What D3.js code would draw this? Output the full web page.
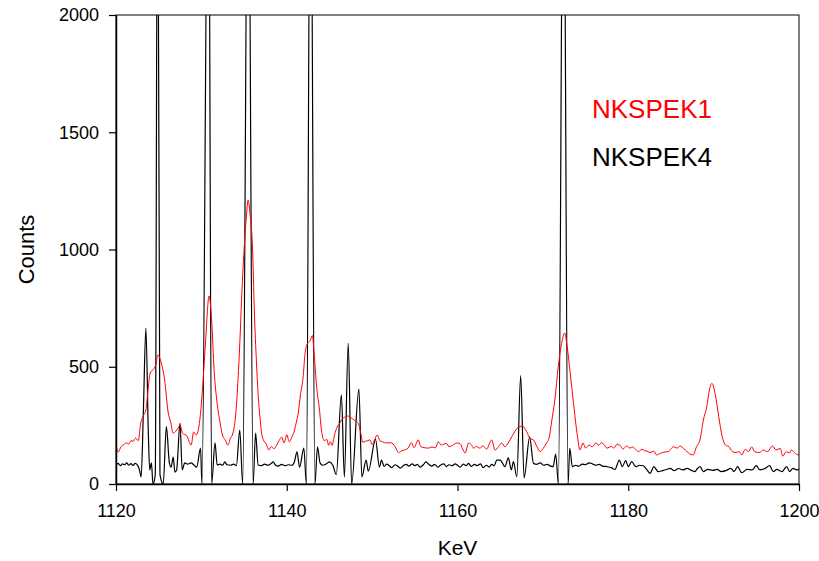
<!DOCTYPE html>
<html>
<head>
<meta charset="utf-8">
<script src="https://cdn.jsdelivr.net/npm/d3@7"></script>
<style>
  body { margin: 0; background: #fff; }
  svg text { font-family: "Liberation Sans", Arial, sans-serif; }
</style>
</head>
<body>
<svg id="chart" width="819" height="561"></svg>
<script>
// tick values
var xTicks = [1120, 1140, 1160, 1180, 1200];
var yTicks = [0, 500, 1000, 1500, 2000];

// series names
var seriesNames = ["NKSPEK1", "NKSPEK4"];

// NKSPEK1 (red) [keV, counts]
var nkspek1 = [
  [1120.0,166],[1120.25,136],[1120.6,160],[1120.9,168],[1121.2,175],[1121.5,170],[1121.75,185],
  [1122.0,182],[1122.3,196],[1122.6,185],[1122.9,260],[1123.2,290],[1123.5,315],[1123.75,400],
  [1124.0,473],[1124.3,486],[1124.65,507],[1124.9,550],[1125.3,516],[1125.7,443],[1126.1,307],
  [1126.4,264],[1126.7,217],[1127.0,225],[1127.3,239],[1127.5,252],[1127.8,217],[1128.3,205],
  [1128.8,166],[1129.1,222],[1129.4,209],[1129.7,243],[1129.95,320],[1130.2,443],[1130.5,614],
  [1130.9,802],[1131.2,700],[1131.5,480],[1131.8,358],[1132.2,260],[1132.5,205],[1132.8,188],
  [1133.1,166],[1133.4,195],[1133.7,217],[1134.05,308],[1134.3,450],[1134.5,600],[1134.7,780],
  [1135.0,998],[1135.25,1130],[1135.48,1211],[1135.7,1150],[1136.0,998],[1136.2,742],
  [1136.45,520],[1136.67,370],[1136.85,290],[1137.05,217],[1137.25,190],[1137.6,170],
  [1137.9,145],[1138.2,160],[1138.5,150],[1138.8,165],[1139.1,185],[1139.4,200],[1139.7,175],
  [1140.0,210],[1140.3,180],[1140.6,200],[1140.85,222],[1141.1,260],[1141.35,303],[1141.6,380],
  [1141.9,450],[1142.15,558],[1142.45,601],[1142.75,612],[1143.0,633],[1143.2,560],[1143.5,415],
  [1143.8,328],[1144.1,220],[1144.4,185],[1144.7,190],[1144.9,165],[1145.1,180],[1145.3,165],
  [1145.6,210],[1145.9,243],[1146.2,258],[1146.5,278],[1146.8,285],[1147.1,290],[1147.4,286],
  [1147.8,275],[1148.1,268],[1148.4,258],[1148.65,220],[1148.9,178],[1149.2,182],[1149.5,185],
  [1149.75,188],[1150.0,168],[1150.3,190],[1150.6,209],[1150.9,185],[1151.2,180],[1151.7,175],
  [1152.2,176],[1152.7,159],[1153.1,134],[1153.5,142],[1153.8,145],[1154.2,153],[1154.6,176],
  [1154.9,155],[1155.4,188],[1155.7,159],[1156.1,155],[1156.6,153],[1157.0,158],[1157.4,154],
  [1157.75,180],[1158.1,166],[1158.4,170],[1158.7,173],[1159.0,159],[1159.4,165],[1159.9,175],
  [1160.3,172],[1160.6,150],[1160.9,132],[1161.3,175],[1161.6,168],[1161.9,153],[1162.2,160],
  [1162.6,153],[1163.0,162],[1163.4,149],[1164.0,188],[1164.4,145],[1164.8,159],[1165.15,175],
  [1165.55,159],[1165.85,170],[1166.15,188],[1166.7,223],[1167.0,238],[1167.3,245],[1167.6,247],
  [1168.1,223],[1168.5,194],[1168.9,188],[1169.3,159],[1169.7,138],[1170.0,150],[1170.4,173],
  [1170.75,200],[1171.0,260],[1171.4,358],[1171.8,500],[1172.2,600],[1172.55,644],[1172.85,585],
  [1173.2,473],[1173.55,358],[1174.0,217],[1174.35,145],[1174.7,175],[1175.0,153],[1175.4,166],
  [1175.8,159],[1176.2,175],[1176.5,166],[1176.9,176],[1177.2,166],[1177.5,153],[1178.0,160],
  [1178.3,153],[1178.7,170],[1179.0,166],[1179.4,149],[1179.8,162],[1180.2,153],[1180.5,158],
  [1180.8,150],[1181.2,138],[1181.6,148],[1181.9,142],[1182.2,140],[1182.55,134],[1183.0,140],
  [1183.3,124],[1183.8,131],[1184.2,136],[1184.7,138],[1185.0,150],[1185.3,159],[1185.7,153],
  [1186.1,162],[1186.5,150],[1186.7,145],[1187.2,128],[1187.6,124],[1188.0,159],[1188.4,188],
  [1188.8,273],[1189.2,330],[1189.5,401],[1189.8,429],[1190.2,380],[1190.6,287],[1191.0,202],
  [1191.4,166],[1191.8,159],[1192.2,138],[1192.6,134],[1193.0,138],[1193.3,124],[1193.7,148],
  [1194.1,138],[1194.45,159],[1194.8,138],[1195.4,134],[1195.8,145],[1196.3,138],[1196.9,162],
  [1197.3,145],[1197.8,152],[1198.1,119],[1198.5,138],[1198.9,132],[1199.1,145],[1199.5,132],
  [1199.9,124],[1200.0,130]
];

// NKSPEK4 (black) [keV, counts]; the big lines run off the top of the plot
var nkspek4 = [
  [1120.0,80],[1120.25,88],[1120.5,78],[1120.75,86],[1121.0,82],[1121.25,90],[1121.5,80],
  [1121.75,87],[1122.0,79],[1122.25,88],[1122.5,82],[1122.75,60],[1122.95,30],[1123.2,300],
  [1123.5,665],[1123.8,200],[1123.95,60],[1124.15,90],[1124.33,0],[1124.6,40],[1124.88,3000],
  [1125.15,40],[1125.53,0],[1125.9,245],[1126.25,90],[1126.45,72],[1126.7,115],[1126.9,51],
  [1127.1,60],[1127.5,260],[1127.75,60],[1128.05,90],[1128.4,85],[1128.8,90],[1129.1,82],
  [1129.45,72],[1129.9,153],[1130.07,0],[1130.83,3000],[1131.2,0],[1131.6,175],[1131.85,81],
  [1132.2,85],[1132.5,80],[1132.75,94],[1133.0,82],[1133.4,80],[1133.8,85],[1134.1,78],
  [1134.5,230],[1134.84,0],[1135.48,3000],[1136.06,0],[1136.35,217],[1136.65,81],[1137.0,78],
  [1137.4,85],[1137.8,80],[1138.2,88],[1138.4,94],[1138.7,80],[1139.0,76],[1139.4,84],
  [1139.8,78],[1140.2,82],[1140.6,80],[1140.9,95],[1141.2,137],[1141.5,72],[1142.0,153],
  [1142.3,0],[1142.78,3000],[1143.3,0],[1143.6,158],[1143.9,90],[1144.2,80],[1144.6,85],
  [1145.0,94],[1145.4,80],[1145.8,40],[1146.4,380],[1146.75,30],[1147.2,600],[1147.6,0],
  [1148.45,405],[1148.8,30],[1149.3,102],[1149.55,55],[1150.4,190],[1150.85,72],[1151.1,102],
  [1151.4,75],[1151.7,85],[1152.0,78],[1152.3,70],[1152.7,82],[1153.0,76],[1153.3,68],
  [1153.7,80],[1154.0,84],[1154.3,76],[1154.7,86],[1155.0,78],[1155.3,84],[1155.6,72],
  [1156.0,82],[1156.3,94],[1156.6,85],[1157.0,76],[1157.3,84],[1157.7,72],[1158.0,80],
  [1158.4,86],[1158.7,74],[1159.0,82],[1159.4,78],[1159.7,86],[1160.0,80],[1160.3,72],
  [1160.7,85],[1161.0,78],[1161.3,88],[1161.6,75],[1162.0,84],[1162.3,78],[1162.7,86],
  [1163.0,70],[1163.4,80],[1163.7,72],[1164.0,84],[1164.3,78],[1164.6,102],[1165.0,102],
  [1165.55,74],[1165.95,111],[1166.3,60],[1166.55,95],[1166.95,31],[1167.4,462],[1167.8,26],
  [1168.45,200],[1168.9,88],[1169.3,84],[1169.7,90],[1170.1,80],[1170.5,84],[1170.9,76],
  [1171.2,74],[1171.5,128],[1171.82,0],[1172.41,3000],[1172.95,0],[1173.15,152],[1173.45,74],
  [1173.8,80],[1174.2,76],[1174.6,85],[1175.0,82],[1175.4,90],[1175.8,86],[1176.2,80],
  [1176.6,84],[1177.0,76],[1177.5,74],[1178.0,70],[1178.45,62],[1178.95,102],[1179.3,74],
  [1179.7,100],[1180.0,74],[1180.4,95],[1180.9,74],[1181.3,80],[1181.75,78],[1182.2,60],
  [1182.55,45],[1183.0,74],[1183.5,53],[1184.0,57],[1184.5,62],[1184.9,67],[1185.4,57],
  [1185.9,66],[1186.4,60],[1186.9,67],[1187.4,58],[1187.8,53],[1188.1,66],[1188.4,74],
  [1188.8,53],[1189.3,62],[1189.9,58],[1190.4,62],[1190.9,53],[1191.5,58],[1192.0,67],
  [1192.4,53],[1192.8,74],[1193.3,48],[1193.9,62],[1194.5,60],[1195.0,78],[1195.4,60],
  [1196.0,66],[1196.55,78],[1197.0,53],[1197.4,62],[1198.0,53],[1198.55,74],[1198.9,53],
  [1199.3,67],[1199.7,60],[1200.0,64]
];

var svg = d3.select("svg#chart");

var margin = {left: 116, right: 20, top: 15, bottom: 77};
var width = 819 - margin.left - margin.right,
    height = 561 - margin.top - margin.bottom;

var x = d3.scaleLinear().domain([1120, 1200]).range([margin.left, margin.left + width]);
var y = d3.scaleLinear().domain([0, 2000]).range([margin.top + height, margin.top]);

svg.append("clipPath").attr("id", "plot-clip")
  .append("rect")
  .attr("x", margin.left).attr("y", margin.top)
  .attr("width", width).attr("height", height);

// smooth the trace a little, like the original plotting program
var line = d3.line()
  .curve(d3.curveMonotoneX)
  .x(function(d) { return x(d[0]); })
  .y(function(d) { return y(d[1]); });

// black first, red on top
svg.append("path")
  .datum(nkspek4)
  .attr("clip-path", "url(#plot-clip)")
  .attr("fill", "none")
  .attr("stroke", "#000")
  .attr("stroke-width", 1.2)
  .attr("d", line);

svg.append("path")
  .datum(nkspek1)
  .attr("clip-path", "url(#plot-clip)")
  .attr("fill", "none")
  .attr("stroke", "#ff0000")
  .attr("stroke-width", 1)
  .attr("d", line);

// frame
svg.append("rect")
  .attr("x", margin.left).attr("y", margin.top)
  .attr("width", width).attr("height", height)
  .attr("fill", "none")
  .attr("stroke", "#000")
  .attr("stroke-width", 1);

// axes
var xAxis = svg.append("g")
  .attr("transform", "translate(0," + (margin.top + height) + ")")
  .call(d3.axisBottom(x).tickValues(xTicks).tickSize(7).tickPadding(13).tickSizeOuter(0).tickFormat(d3.format("d")));

var yAxis = svg.append("g")
  .attr("transform", "translate(" + margin.left + ",0)")
  .call(d3.axisLeft(y).tickValues(yTicks).tickSize(7).tickPadding(10).tickSizeOuter(0).tickFormat(d3.format("d")));

[xAxis, yAxis].forEach(function(g) {
  g.select(".domain").attr("stroke-width", 1.5);
  g.selectAll(".tick line").attr("stroke-width", 1.2);
  g.selectAll("text")
    .attr("font-family", "'Liberation Sans', Arial, sans-serif")
    .attr("font-size", 18)
    .attr("fill", "#000");
});

// axis titles
svg.append("text")
  .attr("x", x(1160)).attr("y", 555)
  .attr("text-anchor", "middle")
  .attr("font-size", 21)
  .text("KeV");

svg.append("text")
  .attr("transform", "translate(34," + y(1000) + ") rotate(-90)")
  .attr("text-anchor", "middle")
  .attr("font-size", 22)
  .text("Counts");

// legend
var legendColors = ["#ff0000", "#000000"];
svg.selectAll(".legend")
  .data(seriesNames)
  .enter()
  .append("text")
  .attr("class", "legend")
  .attr("x", 592)
  .attr("y", function(d, i) { return 118 + i * 48; })
  .attr("font-size", 26)
  .attr("fill", function(d, i) { return legendColors[i]; })
  .text(function(d) { return d; });
</script>
</body>
</html>
